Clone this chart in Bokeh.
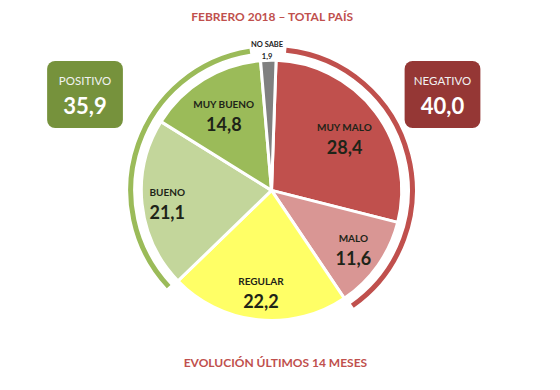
import math
from bokeh.plotting import figure
from bokeh.models import Range1d
from bokeh.core.properties import value
from bokeh.embed import file_html
from bokeh.resources import INLINE

# ---- data ----
categories = ["MUY MALO", "MALO", "REGULAR", "BUENO", "MUY BUENO", "NO SABE"]
values = [28.4, 11.6, 22.2, 21.1, 14.8, 1.9]
value_labels = ["28,4", "11,6", "22,2", "21,1", "14,8", "1,9"]
group_names = ["POSITIVO", "NEGATIVO"]
group_values = ["35,9", "40,0"]
title_top = "FEBRERO 2018 \u2013 TOTAL PA\u00cdS"
title_bottom = "EVOLUCI\u00d3N \u00daLTIMOS 14 MESES"

# ---- style ----
slice_colors = ["#c0504d", "#d99694", "#ffff66", "#c3d69b", "#9bbb59", "#808080"]
label_radius = [94, 103, 105, 108, 94, 146]
W, H = 544, 374
FONT = value("Lato")
# canvas coordinates follow the 560x390 reference (y measured upward)
cx, cy = 279, 390 - 198
R = 134
start_deg = 88.0

p = figure(width=W, height=H, output_backend="svg", toolbar_location=None,
           x_range=Range1d(0, 560), y_range=Range1d(0, 390),
           min_border=0, x_axis_location=None, y_axis_location=None)
p.grid.visible = False
p.outline_line_color = None
p.background_fill_color = "white"

# compute angles (clockwise from start)
starts, ends, mids = [], [], []
a = start_deg
for v in values:
    span = v / sum(values) * 360.0
    starts.append(a)
    ends.append(a - span)
    mids.append(a - span / 2)
    a -= span

p.wedge(x=[cx] * len(values), y=[cy] * len(values), radius=R,
        start_angle=[math.radians(e) for e in ends],
        end_angle=[math.radians(s) for s in starts],
        fill_color=slice_colors, line_color="white", line_width=3)

# outer group arcs
RA = 145
gap = 4.0
# NEGATIVO: MUY MALO + MALO
p.arc(x=[cx], y=[cy], radius=RA,
      start_angle=[math.radians(ends[1] + 1)], end_angle=[math.radians(starts[0] - gap)],
      line_color="#c0504d", line_width=5)
# POSITIVO: BUENO + MUY BUENO
p.arc(x=[cx], y=[cy], radius=RA,
      start_angle=[math.radians(ends[4] + 360 + gap)], end_angle=[math.radians(ends[2] + 360 - 1)],
      line_color="#9bbb59", line_width=5)

# slice labels
for i, c in enumerate(categories):
    r = label_radius[i]
    lx = cx + r * math.cos(math.radians(mids[i]))
    ly = cy + r * math.sin(math.radians(mids[i]))
    if c == "NO SABE":
        p.text(x=[lx - 1], y=[ly + 6], text=[c], text_align="center", text_baseline="middle",
               text_font=FONT, text_font_style="bold", text_font_size="7.5px", text_color="#222222")
        p.text(x=[lx - 1], y=[ly - 6], text=[value_labels[i]], text_align="center", text_baseline="middle",
               text_font=FONT, text_font_style="bold", text_font_size="7.5px", text_color="#222222")
    else:
        p.text(x=[lx], y=[ly + 10], text=[c], text_align="center", text_baseline="middle",
               text_font=FONT, text_font_style="bold", text_font_size="10px", text_color="#1e2418")
        p.text(x=[lx], y=[ly - 11], text=[value_labels[i]], text_align="center", text_baseline="middle",
               text_font=FONT, text_font_style="bold", text_font_size="18px", text_color="#1e2418")

# group boxes
box_x = [87, 455]
box_colors = ["#76923c", "#953735"]
p.rect(x=box_x, y=[390 - 98] * 2, width=78, height=70, fill_color=box_colors,
       line_color=None, border_radius=8)
p.text(x=box_x, y=[390 - 83] * 2, text=group_names, text_align="center", text_baseline="middle",
       text_font=FONT, text_font_size="11.5px", text_color="#f2f2f2")
p.text(x=box_x, y=[390 - 109] * 2, text=group_values, text_align="center", text_baseline="middle",
       text_font=FONT, text_font_style="bold", text_font_size="22px", text_color="#ffffff")

# titles
p.text(x=[280], y=[390 - 17], text=[title_top], text_align="center", text_baseline="middle",
       text_font=FONT, text_font_style="bold", text_font_size="12px", text_color="#c0504d")
p.text(x=[283], y=[390 - 378], text=[title_bottom], text_align="center", text_baseline="middle",
       text_font=FONT, text_font_style="bold", text_font_size="12px", text_color="#c0504d")

open("out.html", "w").write(file_html(p, INLINE))
